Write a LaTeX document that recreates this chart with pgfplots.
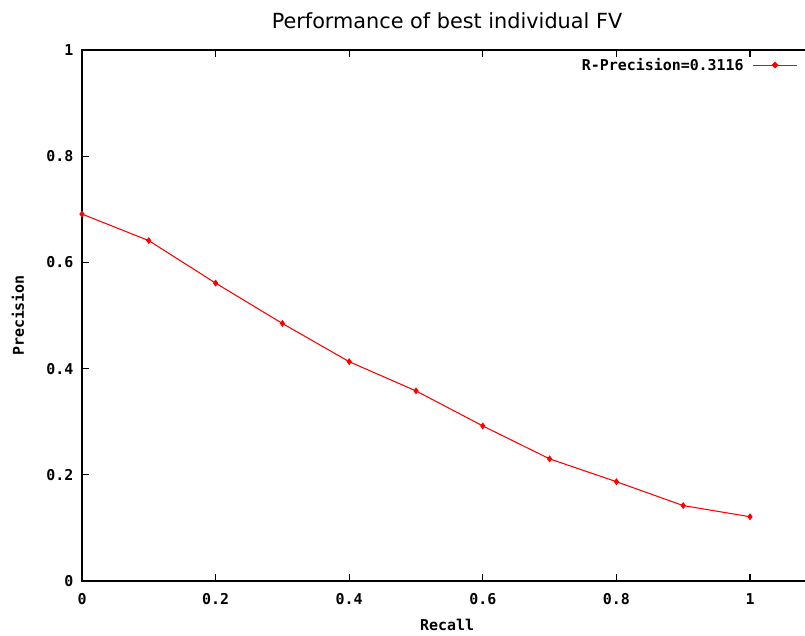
\documentclass[border=0pt]{standalone}
\usepackage{fontspec}
\usepackage{pgfplots}
\pgfplotsset{compat=1.18}
\setmainfont{DejaVu Sans}
\newfontfamily\gfont{DejaVu Sans Mono}
\newcommand\gf{\gfont\bfseries\fontsize{11.2}{13}\selectfont}
\begin{document}
\begin{tikzpicture}
\useasboundingbox (0,0) rectangle (603.75pt,476.25pt);
\clip (0,0) rectangle (603.75pt,476.25pt);
\fill[white] (0,0) rectangle (603.75pt,476.25pt);
\begin{axis}[
  at={(61.5pt,40.5pt)}, anchor=south west,
  scale only axis,
  width=551.1pt, height=398.25pt,
  xmin=0, xmax=1.1, ymin=0, ymax=1,
  xtick={0,0.2,0.4,0.6,0.8,1},
  ytick={0,0.2,0.4,0.6,0.8,1},
  tick align=inside,
  major tick length=5pt,
  axis line style={line width=0.8pt},
  tick style={line width=0.8pt, black},
  /pgf/number format/assume math mode=true,
  tick label style={font=\gf},
  xticklabel style={yshift=-6pt},
  yticklabel style={xshift=-3pt},
  xlabel={Recall},
  ylabel={Precision},
  label style={font=\gf},
  xlabel style={at={(rel axis cs:0.497,0)}, anchor=center, yshift=-33pt},
  ylabel style={at={([xshift=-48pt]rel axis cs:0,0.5)}, anchor=center},
  legend style={at={(rel axis cs:0.976,0.993)}, anchor=north east, draw=none, fill=none,
    font=\gf, inner sep=1pt},
  legend plot pos=right,
  legend cell align=right,
  legend image code/.code={\path[draw=none, fill=none] (0pt,-1pt) rectangle (0pt,1pt); \draw[red, line width=0.8pt] (5pt,0pt) -- (38pt,0pt); \fill[red] (21.5pt,0pt) +(0,2pt) -- +(2pt,0) -- +(0,-2pt) -- +(-2pt,0) -- cycle;},
]
\addplot[red, line width=0.8pt, mark=diamond*, mark size=2pt, mark options={solid, fill=red}] coordinates {
(0,0.691) (0.1,0.641) (0.2,0.561) (0.3,0.485) (0.4,0.413) (0.5,0.358)
(0.6,0.292) (0.7,0.230) (0.8,0.187) (0.9,0.142) (1.0,0.121)
};
\addlegendentry{R-Precision=0.3116}
\end{axis}
\node[font=\fontsize{15.6}{18}\selectfont, anchor=base] at (335.25pt,455pt) {Performance of best individual FV};
\end{tikzpicture}
\end{document}
